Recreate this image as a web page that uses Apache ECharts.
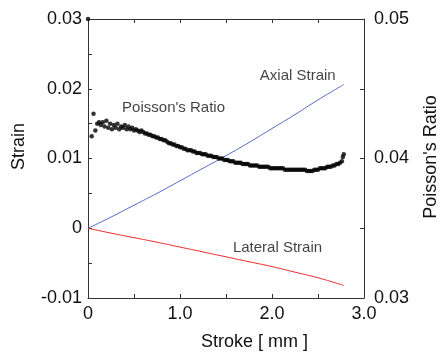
<!DOCTYPE html>
<html><head><meta charset="utf-8">
<script src="https://cdn.jsdelivr.net/npm/echarts@6/dist/echarts.min.js"></script>
<style>html,body{margin:0;padding:0;background:#fff}#c{width:448px;height:356px}</style>
</head><body><div id="c"></div>
<script>
// ---- data ----
const strokeLine = [0, 0.25, 0.5, 0.75, 1.0, 1.25, 1.5, 1.75, 2.0, 2.25, 2.5, 2.78];
const axialStrain = [0, 0.0016, 0.0033, 0.0050, 0.0068, 0.0086, 0.0104, 0.0123, 0.0143, 0.0163, 0.0184, 0.0206];
const lateralStrain = [0, -0.0007, -0.00135, -0.002, -0.0027, -0.0034, -0.0041, -0.0048, -0.0055, -0.0063, -0.0071, -0.0082];

const poissonStroke = [0, 0.04,0.06,0.08,0.10,0.12,0.14,0.16,0.18,0.20,0.22,0.24,0.26,0.28,0.30,0.32,0.34,0.36,0.38,0.40,0.42,0.44,0.46,0.48,
0.50,0.52,0.54,0.56,0.58,0.60,0.62,0.64,0.66,0.68,0.70,0.72,0.74,0.76,0.78,0.80,0.82,0.84,0.86,0.88,0.90,0.92,0.94,0.96,0.98,
1.00,1.02,1.04,1.06,1.08,1.10,1.12,1.14,1.16,1.18,1.20,1.22,1.24,1.26,1.28,1.30,1.32,1.34,1.36,1.38,1.40,1.42,1.44,1.46,1.48,
1.50,1.52,1.54,1.56,1.58,1.60,1.62,1.64,1.66,1.68,1.70,1.72,1.74,1.76,1.78,1.80,1.82,1.84,1.86,1.88,1.90,1.92,1.94,1.96,1.98,
2.00,2.02,2.04,2.06,2.08,2.10,2.12,2.14,2.16,2.18,2.20,2.22,2.24,2.26,2.28,2.30,2.32,2.34,2.36,2.38,2.40,2.42,2.44,2.46,2.48,
2.50,2.52,2.54,2.56,2.58,2.60,2.62,2.64,2.66,2.68,2.70,2.72,2.74,2.76,2.77,2.78];
const poissonRatio = [0.05, 0.0416,0.0432,0.0420,0.0425,0.0426,0.0424,0.0426,0.0423,0.0427,0.0422,0.0425,0.0421,0.0424,0.0422,0.0425,0.0421,0.0423,0.0422,0.0424,0.0421,0.0423,0.0421,0.0422,
0.0420,0.0421,0.0420,0.0419,0.0420,0.0419,0.0418,0.0418,0.0417,0.0417,0.0416,0.0416,0.0415,0.0415,0.0414,0.0414,0.0413,0.0413,0.0412,0.0411,0.0411,0.0410,0.0410,0.0409,0.0409,
0.0408,0.0408,0.0407,0.0407,0.0406,0.0406,0.0406,0.0405,0.0405,0.0404,0.0404,0.0404,0.0403,0.0403,0.0403,0.0402,0.0402,0.0402,0.0401,0.0401,0.0401,0.0400,0.0400,0.0400,0.0399,
0.0399,0.0399,0.0398,0.0398,0.0398,0.0397,0.0397,0.0397,0.0397,0.0396,0.0396,0.0396,0.0396,0.0395,0.0395,0.0395,0.0395,0.0395,0.0394,0.0394,0.0394,0.0394,0.0394,0.0394,0.0393,
0.0393,0.0393,0.0393,0.0393,0.0393,0.0393,0.0393,0.0392,0.0392,0.0392,0.0392,0.0392,0.0392,0.0392,0.0392,0.0392,0.0392,0.0392,0.0392,0.0391,0.0391,0.0391,0.0391,0.0392,0.0392,
0.0392,0.0393,0.0393,0.0393,0.0393,0.0394,0.0394,0.0394,0.0395,0.0395,0.0396,0.0396,0.0397,0.0398,0.0401,0.0403];

const xTickLabels = ['0', '1.0', '2.0', '3.0'];
const strainTickLabels = ['-0.01', '0', '0.01', '0.02', '0.03'];
const ratioTickLabels = ['0.03', '0.04', '0.05'];

const annotText = ['Axial Strain', "Poisson's Ratio", 'Lateral Strain'];
const annotX = [2.28, 0.93, 2.06];
const annotY = [0.0219, 0.0173, -0.0028];

// ---- chart ----
const FONT = 'Liberation Sans, Arial, sans-serif';
const AX = '#333';
const TXT = '#111';
const chart = echarts.init(document.getElementById('c'), null, {renderer: 'canvas'});
const lineStyleAx = {color: AX, width: 1};
const tick = {show: true, inside: true, length: 4, lineStyle: {color: AX}};
const minor = {show: true, splitNumber: 2, length: 4, lineStyle: {color: AX}};

chart.setOption({
  animation: false,
  grid: {left: 88, right: 76, top: 19, bottom: 55, containLabel: false},
  xAxis: [{
    type: 'value', min: 0, max: 3, interval: 1, position: 'bottom',
    name: 'Stroke [ mm ]', nameLocation: 'middle', nameGap: 35,
    nameTextStyle: {fontFamily: FONT, fontSize: 18, color: TXT, padding: [0, 0, 0, 57]},
    axisLine: {show: true, onZero: false, lineStyle: lineStyleAx},
    axisTick: tick, minorTick: minor, splitLine: {show: false},
    axisLabel: {margin: 7, fontFamily: FONT, fontSize: 18, color: TXT,
      formatter: v => xTickLabels[Math.round(v)]}
  }, {
    type: 'value', min: 0, max: 3, interval: 1, position: 'top',
    axisLine: {show: true, onZero: false, lineStyle: lineStyleAx},
    axisTick: tick, minorTick: minor, splitLine: {show: false},
    axisLabel: {show: false}
  }],
  yAxis: [{
    type: 'value', min: -0.01, max: 0.03, interval: 0.01, position: 'left',
    name: 'Strain', nameLocation: 'middle', nameGap: 60, nameRotate: 90,
    nameTextStyle: {fontFamily: FONT, fontSize: 18, color: TXT, padding: [0, 0, 0, 24]},
    axisLine: {show: true, onZero: false, lineStyle: lineStyleAx},
    axisTick: tick, minorTick: minor, splitLine: {show: false},
    axisLabel: {margin: 6, fontFamily: FONT, fontSize: 18, color: TXT,
      formatter: v => strainTickLabels[Math.round(v * 100) + 1]}
  }, {
    type: 'value', min: 0.03, max: 0.05, interval: 0.01, position: 'right',
    name: "Poisson's Ratio", nameLocation: 'middle', nameGap: 58, nameRotate: 90,
    nameTextStyle: {fontFamily: FONT, fontSize: 18, color: TXT, padding: [0, 0, 0, 3]},
    axisLine: {show: true, onZero: false, lineStyle: lineStyleAx},
    axisTick: tick, minorTick: minor, splitLine: {show: false},
    axisLabel: {margin: 10, fontFamily: FONT, fontSize: 18, color: TXT,
      formatter: v => ratioTickLabels[Math.round(v * 100) - 3]}
  }],
  series: [{
    type: 'line', xAxisIndex: 0, yAxisIndex: 0, smooth: true, showSymbol: false,
    data: strokeLine.map((x, i) => [x, axialStrain[i]]),
    lineStyle: {color: '#5468c0', width: 1}, z: 2
  }, {
    type: 'line', xAxisIndex: 0, yAxisIndex: 0, smooth: true, showSymbol: false,
    data: strokeLine.map((x, i) => [x, lateralStrain[i]]),
    lineStyle: {color: '#ee2a2a', width: 1}, z: 2
  }, {
    type: 'scatter', xAxisIndex: 0, yAxisIndex: 1, symbolSize: 4.5,
    data: poissonStroke.map((x, i) => [x, poissonRatio[i]]),
    itemStyle: {color: '#000'}, z: 3
  }, {
    type: 'scatter', xAxisIndex: 0, yAxisIndex: 0, symbolSize: 0, silent: true,
    data: annotText.map((t, i) => ({value: [annotX[i], annotY[i]], name: t})),
    label: {show: true, position: 'inside', formatter: p => p.name,
      fontFamily: FONT, fontSize: 15, color: TXT}
  }]
});
</script></body></html>
